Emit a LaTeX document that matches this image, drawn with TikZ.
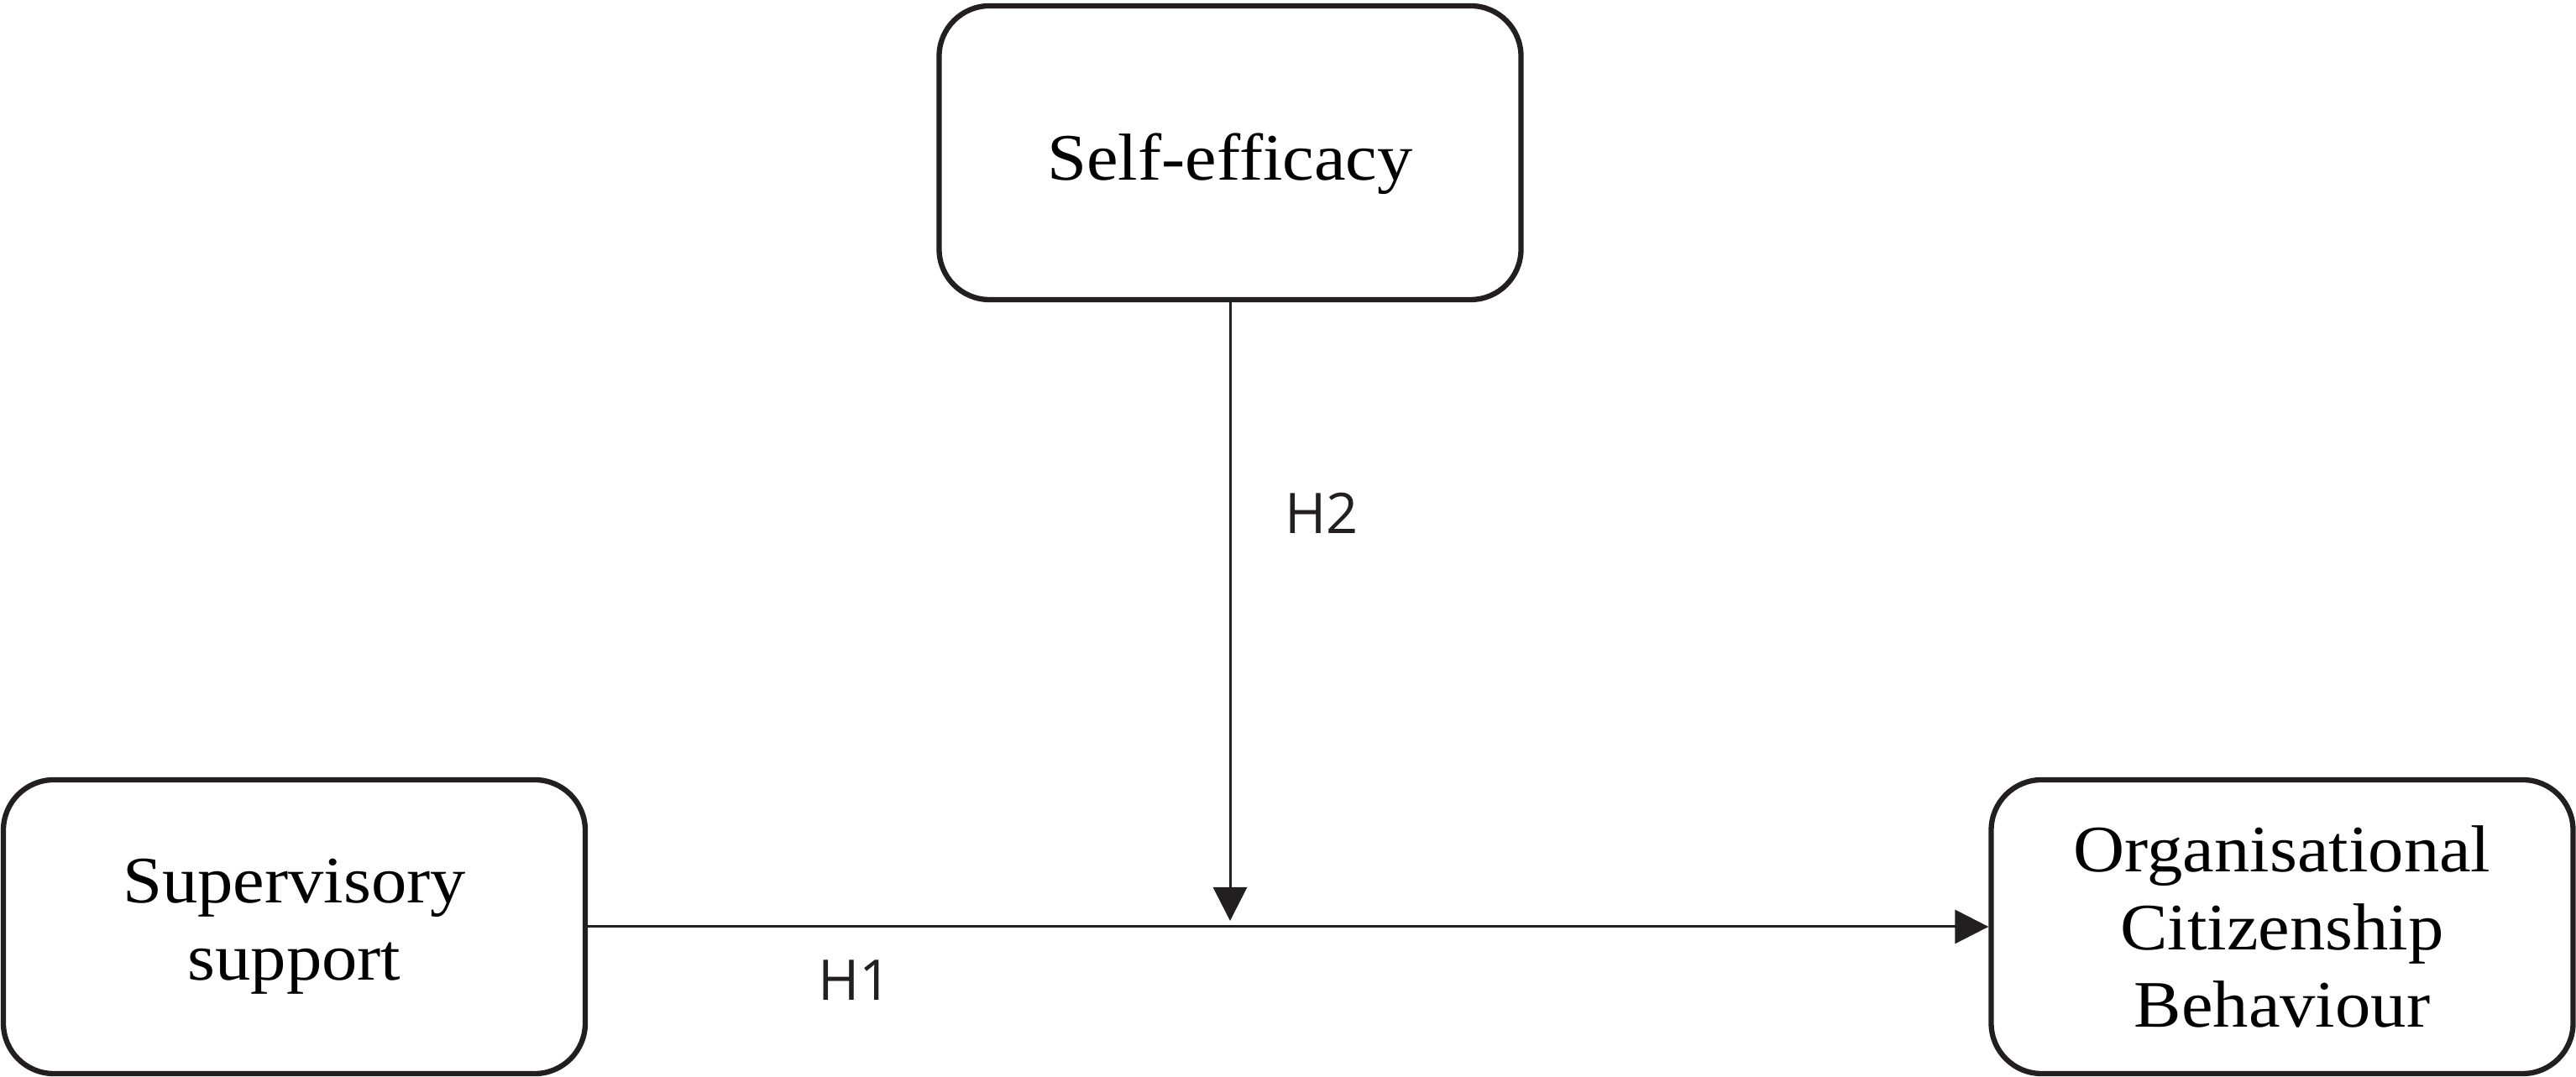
\documentclass[tikz,border=0pt]{standalone}
\usepackage{fontspec}
\setmainfont{Liberation Serif}[FakeStretch=1.07]
\newfontfamily\hfont{Open Sans}
\usepackage{tikz}
\usetikzlibrary{arrows.meta}
\usetikzlibrary{calc}
\tikzset{>={Triangle[length=4mm, width=4mm]}}
\definecolor{ink}{HTML}{231F20}

\begin{document}
\begin{tikzpicture}[
    var/.style={draw=ink, line width=1.8pt, rounded corners=0.6cm, align=center,
        minimum width=6.93cm, minimum height=3.5cm, inner sep=0pt,
        font=\fontsize{22.5}{26.2}\selectfont},
    hyp/.style={font=\hfont\fontsize{19}{22}\selectfont, text=ink},
    path/.style={draw=ink, line width=0.85pt, ->}
]
    \useasboundingbox (0,0) rectangle (30.68,12.83);

    \node[var, text height=0.82cm, text depth=0.17cm] (self) at (14.65,11.01) {Self-efficacy};
    \node[var] (sup) at (3.505,1.79) {Supervisory\\support};
    \node[var] (ocb) at (27.18,1.79) {Organisational\\Citizenship\\Behaviour};

    \coordinate (mod) at (self.south |- sup.east);

    \draw[path] (sup.east) -- (ocb.west);
    \draw[path, shorten >=0.07cm] (self.south) -- (mod);

    % Labels
    \node[hyp] (h2) at (15.74,6.72) {H2};
    \node[hyp] (h1) at (10.18,1.15) {H1};
\end{tikzpicture}
\end{document}
